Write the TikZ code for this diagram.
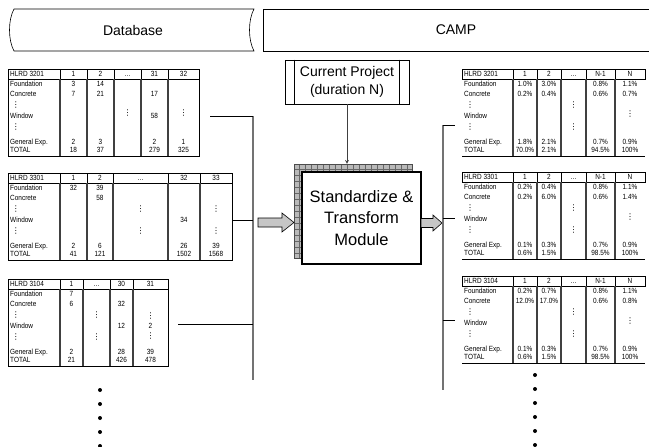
\documentclass[tikz,border=0pt]{standalone}
\usepackage{fontspec}
\setmainfont{Liberation Sans}
\newfontfamily\narrowfont[FakeStretch=0.86]{Liberation Sans}
\newfontfamily\symfont{DejaVu Sans}
\usetikzlibrary{arrows}

\begin{document}
\begin{tikzpicture}[x=1pt,y=-1pt,>=stealth,
	lbl/.style={font=\narrowfont\fontsize{7.5}{8}\selectfont,inner sep=0pt,text height=5.4pt,text depth=0pt},
	cell/.style={lbl},
	vdot/.style={font=\symfont\fontsize{8}{8}\selectfont,inner sep=0pt},
	sep/.style={line width=1.1pt,black!75},
	stub/.style={line width=0.7pt},
	bus/.style={line width=1.3pt,black!55},
	blockarr/.style={fill=gray!45,draw=black,line width=0.6pt}]
	\useasboundingbox (0,0) rectangle (649,447);
	% labels of one table row column
	\def\rowlabels#1#2#3{%
		\node[lbl,anchor=west] (#1-h) at (#2+2,5) {#3};
		\foreach \lt/\ly [count=\k] in {Foundation/15,Concrete/25,Window/47,General Exp./73,TOTAL/81}
			\node[lbl,anchor=west] (#1-l\k) at (#2+2,\ly) {\lt};
		\node[vdot] (#1-d1) at (#2+8,36) {⋮};
		\node[vdot] (#1-d2) at (#2+8,58) {⋮};}
	% headers
	\draw[line width=0.6pt] (14,9) -- (254,9) .. controls (248,20) and (248,40) .. (254,51) -- (14,51) .. controls (8,40) and (8,20) .. (14,9) -- cycle;
	\node[font=\fontsize{14}{16}\selectfont] (db) at (133,30) {Database};
	\draw[line width=0.6pt] (660,9) -- (263,9) -- (263,51) -- (660,51);
	\node[font=\fontsize{14}{16}\selectfont] (camp) at (456,30) {CAMP};
	% left tables
	\begin{scope}[shift={(0,69)}]
		\draw (8,0) rectangle (199,87) (8,10) -- (199,10);
		\foreach \sx in {60,87,114,141,168} \draw (\sx,0) -- (\sx,10);
		\foreach \sx in {60,87,114,141,168} \draw[sep] (\sx,10) -- (\sx,87);
		\rowlabels{la}{8}{HLRD 3201}
		\foreach \cx/\cy/\ct [count=\k] in {73.5/5/1,100.5/5/2,127.5/5/\ldots,154.5/5/31,183.5/5/32,
			73.5/15/3,100.5/15/14,73.5/25/7,100.5/25/21,154.5/25/17,154.5/47/58,
			73.5/73/2,100.5/73/3,154.5/73/2,183.5/73/1,73.5/81/18,100.5/81/37,154.5/81/279,183.5/81/325}
			\node[cell] (la-c\k) at (\cx,\cy) {\ct};
		\foreach \cx/\cy [count=\k] in {127.5/44,183.5/44}
			\node[vdot] (la-v\k) at (\cx,\cy) {⋮};
	\end{scope}
	\begin{scope}[shift={(0,173)}]
		\draw (8,0) rectangle (232,87) (8,10) -- (232,10);
		\foreach \sx in {60,87,113,168,200} \draw (\sx,0) -- (\sx,10);
		\foreach \sx in {60,87,113,168,200} \draw[sep] (\sx,10) -- (\sx,87);
		\rowlabels{lb}{8}{HLRD 3301}
		\foreach \cx/\cy/\ct [count=\k] in {73.5/5/1,100/5/2,140.5/5/\ldots,184/5/32,216/5/33,
			73.5/15/32,100/15/39,100/25/58,184/47/34,
			73.5/73/2,100/73/6,184/73/26,216/73/39,73.5/81/41,100/81/121,184/81/1502,216/81/1568}
			\node[cell] (lb-c\k) at (\cx,\cy) {\ct};
		\foreach \cx/\cy [count=\k] in {140.5/36,140.5/58,216/36,216/58}
			\node[vdot] (lb-v\k) at (\cx,\cy) {⋮};
	\end{scope}
	\begin{scope}[shift={(0,279)}]
		\draw (8,0) rectangle (168,87) (8,10) -- (168,10);
		\foreach \sx in {60,83,110,133} \draw (\sx,0) -- (\sx,10);
		\foreach \sx in {60,83,110,133} \draw[sep] (\sx,10) -- (\sx,87);
		\rowlabels{lc}{8}{HLRD 3104}
		\foreach \cx/\cy/\ct [count=\k] in {71.5/5/1,96.5/5/\ldots,121.5/5/30,150.5/5/31,
			71.5/15/7,71.5/25/6,121.5/25/32,121.5/47/12,150.5/47/2,
			71.5/73/2,121.5/73/28,150.5/73/39,71.5/81/21,121.5/81/426,150.5/81/478}
			\node[cell] (lc-c\k) at (\cx,\cy) {\ct};
		\foreach \cx/\cy [count=\k] in {96.5/36,96.5/58,150.5/37,150.5/57}
			\node[vdot] (lc-v\k) at (\cx,\cy) {⋮};
	\end{scope}
	% right tables
	\begin{scope}[shift={(0,69)}]
		\draw (462,0) rectangle (645,10) (462,87) -- (645,87);
		\foreach \sx in {513,537,561,586,615} \draw (\sx,0) -- (\sx,10);
		\foreach \sx in {513,537,561,586,615} \draw[sep] (\sx,10) -- (\sx,87);
		\rowlabels{ra}{462}{HLRD 3201}
		\foreach \cx/\cy/\ct [count=\k] in {525/5/1,549/5/2,573.5/5/\ldots,600.5/5/N-1,630/5/N,
			525/15/1.0\%,549/15/3.0\%,600.5/15/0.8\%,630/15/1.1\%,525/25/0.2\%,549/25/0.4\%,600.5/25/0.6\%,630/25/0.7\%,
			525/73/1.8\%,549/73/2.1\%,600.5/73/0.7\%,630/73/0.9\%,525/81/70.0\%,549/81/2.1\%,600.5/81/94.5\%,630/81/100\%}
			\node[cell] (ra-c\k) at (\cx,\cy) {\ct};
		\foreach \cx/\cy [count=\k] in {573.5/36,573.5/58,630/45}
			\node[vdot] (ra-v\k) at (\cx,\cy) {⋮};
	\end{scope}
	\begin{scope}[shift={(0,172)}]
		\draw (462,0) rectangle (645,10) (462,87) -- (645,87);
		\foreach \sx in {513,537,561,586,615} \draw (\sx,0) -- (\sx,10);
		\foreach \sx in {513,537,561,586,615} \draw[sep] (\sx,10) -- (\sx,87);
		\rowlabels{rb}{462}{HLRD 3301}
		\foreach \cx/\cy/\ct [count=\k] in {525/5/1,549/5/2,573.5/5/\ldots,600.5/5/N-1,630/5/N,
			525/15/0.2\%,549/15/0.4\%,600.5/15/0.8\%,630/15/1.1\%,525/25/0.2\%,549/25/6.0\%,600.5/25/0.6\%,630/25/1.4\%,
			525/73/0.1\%,549/73/0.3\%,600.5/73/0.7\%,630/73/0.9\%,525/81/0.6\%,549/81/1.5\%,600.5/81/98.5\%,630/81/100\%}
			\node[cell] (rb-c\k) at (\cx,\cy) {\ct};
		\foreach \cx/\cy [count=\k] in {573.5/36,573.5/58,630/45}
			\node[vdot] (rb-v\k) at (\cx,\cy) {⋮};
	\end{scope}
	\begin{scope}[shift={(0,276)}]
		\draw (462,0) rectangle (645,10) (462,87) -- (645,87);
		\foreach \sx in {513,537,561,586,615} \draw (\sx,0) -- (\sx,10);
		\foreach \sx in {513,537,561,586,615} \draw[sep] (\sx,10) -- (\sx,87);
		\rowlabels{rc}{462}{HLRD 3104}
		\foreach \cx/\cy/\ct [count=\k] in {525/5/1,549/5/2,573.5/5/\ldots,600.5/5/N-1,630/5/N,
			525/15/0.2\%,549/15/0.7\%,600.5/15/0.8\%,630/15/1.1\%,525/25/12.0\%,549/25/17.0\%,600.5/25/0.6\%,630/25/0.8\%,
			525/73/0.1\%,549/73/0.3\%,600.5/73/0.7\%,630/73/0.9\%,525/81/0.6\%,549/81/1.5\%,600.5/81/98.5\%,630/81/100\%}
			\node[cell] (rc-c\k) at (\cx,\cy) {\ct};
		\foreach \cx/\cy [count=\k] in {573.5/36,573.5/58,630/45}
			\node[vdot] (rc-v\k) at (\cx,\cy) {⋮};
	\end{scope}
	% current project and module
	\node[draw,line width=0.6pt,minimum width=124pt,minimum height=44pt,align=center,
		font=\fontsize{14}{18}\selectfont] (cur) at (347,82) {Current Project\\(duration N)};
	\draw ([xshift=9pt]cur.north west) -- ([xshift=9pt]cur.south west);
	\draw ([xshift=-10pt]cur.north east) -- ([xshift=-10pt]cur.south east);
	\node[fill=gray!55,draw=black!70,minimum width=118pt,minimum height=94pt,
		path picture={\draw[black!60,line width=0.4pt,step=6pt] (path picture bounding box.south west) grid (path picture bounding box.north east);}] (back) at (353,211) {};
	\node[draw,line width=1.6pt,fill=white,minimum width=119pt,minimum height=92pt,align=center,
		font=\fontsize{16.5}{21.5}\selectfont] (module) at (361.5,218) {Standardize \&\\Transform\\Module};
	\draw[->,black!75,line width=0.7pt] (cur.south) -- (cur.south |- back.north);
	% block arrows
	\filldraw[blockarr] (258,218) -- (282,218) -- (282,213) -- (294,222.5) -- (282,232) -- (282,227) -- (258,227) -- cycle;
	\filldraw[blockarr] (421,218.5) -- (433,218.5) -- (433,215) -- (442,223) -- (433,231) -- (433,227.5) -- (421,227.5) -- cycle;
	% connectors
	\coordinate (lbus1) at (253,116);
	\coordinate (lbus2) at (253,220);
	\coordinate (lbus3) at (253,324);
	\coordinate (lbusend) at (253,380);
	\coordinate (ltab1) at (210,116);
	\coordinate (ltab2) at (232,220);
	\coordinate (ltab3) at (178,324);
	\draw[bus] (lbus1) -- (lbusend);
	\draw[stub] (ltab1) -- (lbus1) (ltab2) -- (lbus2) (ltab3) -- (lbus3);
	\coordinate (rbus1) at (443,125);
	\coordinate (rbus2) at (443,218);
	\coordinate (rbus3) at (443,320);
	\coordinate (rbusend) at (443,390);
	\coordinate (rtab1) at (455,125);
	\coordinate (rtab2) at (455,218);
	\coordinate (rtab3) at (455,320);
	\draw[bus] (rbus1) -- (rbusend);
	\draw[stub] (rbus1) -- (rtab1) (rbus2) -- (rtab2) (rbus3) -- (rtab3);
	% more tables
	\foreach \dy in {390,404,418,432,446} \fill (100,\dy) circle (2);
	\foreach \dy in {375,389,403,417,431,445} \fill (535,\dy) circle (2);
\end{tikzpicture}
\end{document}
